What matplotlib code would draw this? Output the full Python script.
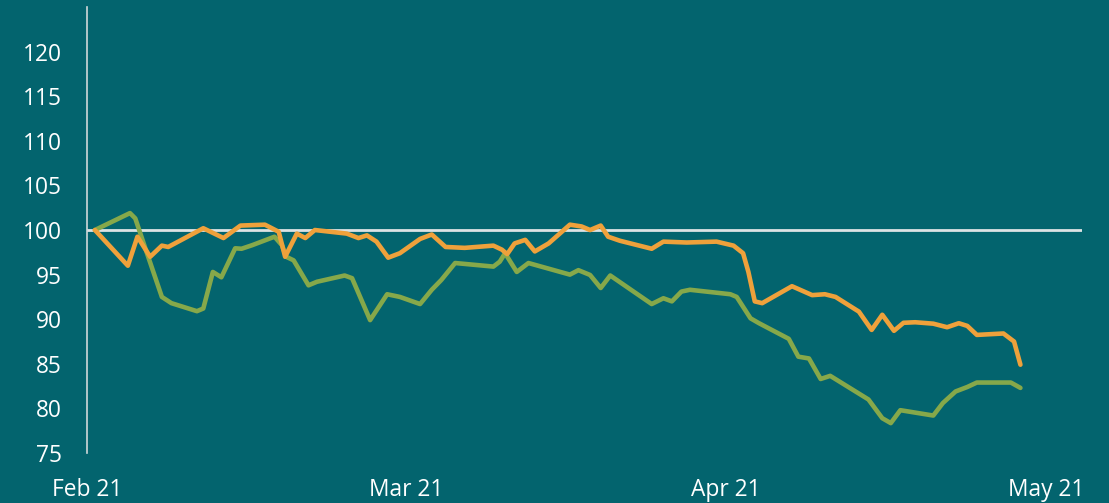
import numpy as np
import matplotlib
matplotlib.use('Agg')
import matplotlib.pyplot as plt

# day offsets from 1 Feb 2021 and index values
days_orange = [0, 3.1, 4.0, 5.2, 6.3, 6.9, 10.2, 12.1, 13.7, 16.0, 17.3, 17.9, 19.0, 19.8,
               20.7, 23.7, 24.8, 25.6, 26.5, 27.6, 28.7, 30.6, 31.7, 33.0, 34.8, 37.5,
               38.3, 38.8, 39.5, 40.5, 41.4, 42.7, 44.7, 45.8, 46.6, 47.6, 48.3, 49.4,
               52.4, 53.5, 55.7, 58.5, 60.1, 61.0, 61.5, 62.1, 62.8, 65.6, 67.5, 68.7,
               69.7, 71.9, 73.1, 74.1, 75.2, 76.1, 77.2, 78.9, 80.2, 81.3, 82.1, 83.0,
               85.5, 86.5, 87.1]
orange = [100.0, 96.0, 99.25, 97.0, 98.25, 98.1, 100.2, 99.1, 100.5, 100.6, 99.8, 97.0, 99.6, 99.1,
          100.0, 99.6, 99.1, 99.4, 98.7, 96.9, 97.4, 99.0, 99.5, 98.1, 98.0, 98.25,
          97.8, 97.3, 98.5, 98.9, 97.6, 98.5, 100.6, 100.4, 100.0, 100.5, 99.25, 98.8,
          97.9, 98.7, 98.6, 98.7, 98.25, 97.4, 95.3, 92.0, 91.8, 93.7, 92.7, 92.8,
          92.5, 90.85, 88.8, 90.5, 88.7, 89.6, 89.66, 89.5, 89.1, 89.55, 89.25, 88.24,
          88.4, 87.5, 84.9]

days_green = [0, 3.3, 3.8, 4.9, 6.3, 7.2, 9.6, 10.2, 11.1, 11.9, 13.2, 13.8, 14.8, 16.9,
              17.6, 18.0, 18.7, 20.1, 20.9, 23.5, 24.2, 25.9, 27.5, 28.7, 30.6, 31.7,
              32.6, 33.9, 37.5, 38.1, 38.6, 39.7, 40.8, 44.7, 45.5, 46.6, 47.6, 48.5,
              52.4, 53.5, 54.3, 55.2, 56.0, 59.8, 60.4, 61.7, 62.5, 65.3, 66.2, 67.2,
              68.3, 69.2, 72.8, 74.1, 74.9, 75.8, 78.9, 79.8, 81.0, 82.1, 83.0, 86.2, 87.1]
green = [100.0, 101.9, 101.3, 97.4, 92.5, 91.8, 90.9, 91.2, 95.3, 94.7, 97.95, 97.9, 98.3, 99.25,
         98.3, 97.0, 96.6, 93.8, 94.2, 94.9, 94.6, 89.9, 92.8, 92.5, 91.7, 93.3,
         94.4, 96.3, 95.9, 96.45, 97.4, 95.3, 96.3, 95.0, 95.5, 94.96, 93.5, 94.9,
         91.7, 92.35, 92.0, 93.1, 93.3, 92.8, 92.5, 90.1, 89.55, 87.8, 85.8, 85.6,
         83.3, 83.65, 81.0, 78.9, 78.35, 79.8, 79.2, 80.6, 81.9, 82.4, 82.9, 82.9, 82.3]

month_labels = ['Feb 21', 'Mar 21', 'Apr 21', 'May 21']
y_ticks = [75, 80, 85, 90, 95, 100, 105, 110, 115, 120]

bg = '#03646E'
plt.rcParams['font.family'] = ['Open Sans', 'DejaVu Sans']

fig = plt.figure(figsize=(11.09, 5.03), dpi=100, facecolor=bg)
ax = fig.add_axes([0.0784, 0.0994, 0.8973, 0.8866], facecolor=bg)

ax.axhline(100, color='#DCE3E4', lw=2.0, zorder=1)
ax.plot(days_green, green, color='#86A84A', lw=3.3, solid_joinstyle='round',
        solid_capstyle='round', zorder=2)
ax.plot(days_orange, orange, color='#EFA13B', lw=3.3, solid_joinstyle='round',
        solid_capstyle='round', zorder=3)

ax.set_xlim(-0.75, 92.9)
ax.set_ylim(75, 125)
ax.set_yticks(y_ticks)
ax.set_xticks(np.linspace(-0.75, 89.5, 4))
ax.set_xticklabels(month_labels)

for s in ['top', 'right', 'bottom']:
    ax.spines[s].set_visible(False)
ax.spines['left'].set_color('#D0D8DA')
ax.spines['left'].set_linewidth(1.2)

ax.tick_params(axis='both', length=0, colors='white', labelsize=16.4)
ax.tick_params(axis='y', pad=18)
ax.tick_params(axis='x', pad=18)

fig.savefig('out.png', dpi=100, facecolor=bg)
